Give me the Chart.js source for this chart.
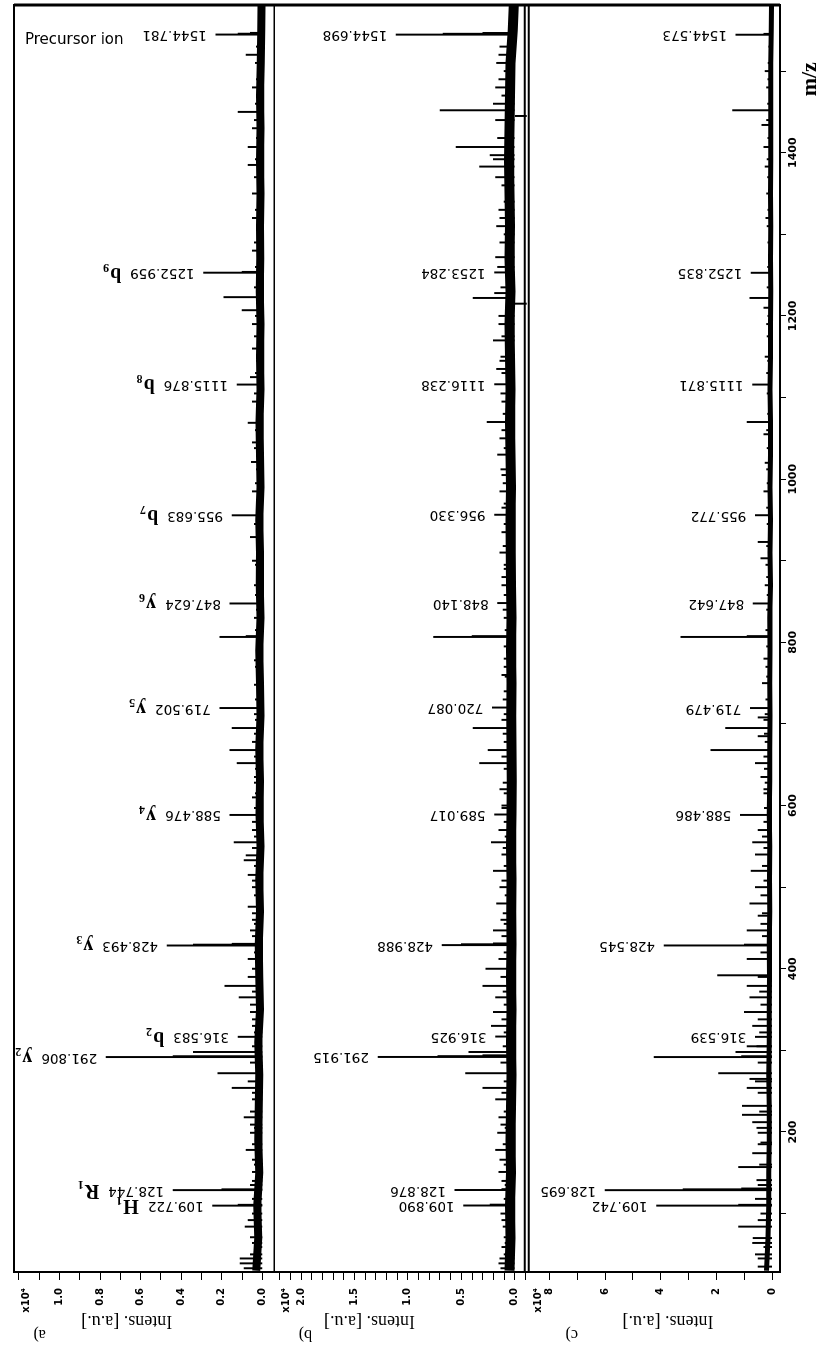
<!DOCTYPE html>
<html>
<head>
<meta charset="utf-8">
<script src="https://cdn.jsdelivr.net/npm/chart.js"></script>
<style>
html, body { margin:0; padding:0; background:#fff; width:817px; height:1347px; overflow:hidden; }
/* the spectrum is drawn landscape and turned a quarter turn, like the scanned figure */
#wrap { position:absolute; left:0; top:0; width:1347px; height:817px; transform-origin:0 0; transform:translate(0px,1347px) rotate(-90deg); }
canvas { display:block; }
</style>
</head>
<body>
<div id="wrap"><canvas id="spec" width="1347" height="817"></canvas></div>
<script>
// m/z axis and tick labels
var mzTickLabels = [200, 400, 600, 800, 1000, 1200, 1400];
var tickLabelsA = [0, 0.2, 0.4, 0.6, 0.8, 1.0];
var tickLabelsB = [0, 0.5, 1.0, 1.5, 2.0];
var tickLabelsC = [0, 2, 4, 6, 8];

// panel a) peaks (intens. x10^4)
var peakMzA = [33, 39, 45, 59, 71, 84, 100, 109.722, 110.7, 128.744, 129.7, 140, 151, 166, 178, 199, 209, 218, 240, 254, 272, 291.806, 292.8, 298, 316.583, 330, 347, 365, 379, 400, 412, 428.493, 429.5, 430.5, 447, 460, 476, 500, 515, 533, 539, 555, 570, 588.476, 610, 635, 652, 668, 695, 719.502, 748, 778, 806.6, 807.6, 830, 847.624, 870, 900, 929, 955.683, 985, 1021, 1045, 1069, 1095, 1115.876, 1125, 1160, 1190, 1207, 1223, 1252.959, 1253.9, 1280, 1320, 1350, 1385, 1407, 1430, 1450, 1480, 1520, 1544.781, 1545.8, 1546.8];
var peakIA = [0.09, 0.11, 0.11, 0.04, 0.06, 0.085, 0.05, 0.245, 0.12, 0.44, 0.2, 0.05, 0.05, 0.05, 0.08, 0.06, 0.06, 0.09, 0.05, 0.15, 0.22, 0.77, 0.44, 0.34, 0.12, 0.05, 0.06, 0.115, 0.185, 0.05, 0.07, 0.47, 0.34, 0.15, 0.06, 0.05, 0.07, 0.05, 0.07, 0.09, 0.08, 0.14, 0.05, 0.16, 0.05, 0.04, 0.125, 0.16, 0.15, 0.21, 0.04, 0.04, 0.21, 0.08, 0.04, 0.16, 0.04, 0.05, 0.06, 0.15, 0.05, 0.055, 0.05, 0.07, 0.05, 0.125, 0.06, 0.05, 0.05, 0.1, 0.19, 0.29, 0.1, 0.05, 0.05, 0.05, 0.07, 0.07, 0.05, 0.12, 0.05, 0.08, 0.23, 0.12, 0.06];
var labelsA = [109.722, 128.744, 291.806, 316.583, 428.493, 588.476, 719.502, 847.624, 955.683, 1115.876, 1252.959, 1544.781];
var ionsA = [['H', '1'], ['R', '1'], ['y', '2'], ['b', '2'], ['y', '3'], ['y', '4'], ['y', '5'], ['y', '6'], ['b', '7'], ['b', '8'], ['b', '9'], null];

// panel b)
var peakMzB = [33, 39, 45, 59, 71, 84, 100, 109.89, 110.9, 128.876, 129.9, 140, 151, 166, 178, 199, 209, 218, 240, 254, 272, 291.915, 292.9, 293.9, 298, 316.925, 330, 347, 365, 379, 400, 412, 428.988, 430, 431, 447, 460, 480, 500, 520, 540, 555, 570, 589.017, 600, 620, 652, 668, 695, 720.087, 740, 760, 780, 806.6, 807.6, 830, 848.14, 870, 890, 910, 935, 956.33, 970, 985, 1005, 1030, 1050, 1070, 1095, 1116.238, 1135, 1150, 1170, 1190, 1215, 1222, 1228, 1238, 1253.284, 1272, 1300, 1320, 1340, 1360, 1383, 1397, 1407, 1445, 1452, 1470, 1480, 1500, 1520, 1544.698, 1545.7, 1546.7];
var peakIB = [0.13, 0.15, 0.14, 0.12, 0.1, 0.11, 0.13, 0.48, 0.23, 0.56, 0.12, 0.12, 0.15, 0.14, 0.18, 0.16, 0.13, 0.15, 0.18, 0.3, 0.46, 1.28, 0.72, 0.3, 0.43, 0.18, 0.22, 0.2, 0.18, 0.3, 0.27, 0.15, 0.68, 0.5, 0.2, 0.2, 0.13, 0.17, 0.14, 0.2, 0.12, 0.22, 0.15, 0.19, 0.12, 0.14, 0.33, 0.25, 0.39, 0.21, 0.1, 0.12, 0.1, 0.76, 0.4, 0.1, 0.16, 0.12, 0.1, 0.14, 0.12, 0.19, 0.1, 0.14, 0.12, 0.16, 0.14, 0.26, 0.12, 0.19, 0.17, 0.13, 0.2, 0.15, -0.14, 0.39, 0.19, 0.08, 0.19, 0.18, 0.1, 0.14, 0.1, 0.12, 0.33, 0.23, 0.55, -0.14, 0.7, 0.12, 0.18, 0.1, 0.15, 1.11, 0.67, 0.3];
var labelsB = [109.89, 128.876, 291.915, 316.925, 428.988, 589.017, 720.087, 848.14, 956.33, 1116.238, 1253.284, 1544.698];

// panel c)
var peakMzC = [35, 45, 59, 70, 84, 100, 109.742, 110.7, 128.695, 129.7, 130.7, 141, 157, 174, 187, 199, 212, 221, 232, 254, 265, 272, 291.8, 292.8, 298, 305, 316.539, 330, 347, 365, 379, 392, 412, 428.545, 429.5, 447, 465, 480, 500, 520, 540, 555, 570, 588.486, 620, 635, 652, 668, 685, 695, 708, 719.479, 750, 780, 806.6, 807.6, 847.642, 870, 903, 923, 955.772, 985, 1020, 1055, 1070, 1115.871, 1150, 1190, 1210, 1222, 1252.835, 1320, 1350, 1383, 1407, 1434, 1452, 1480, 1500, 1544.573, 1545.6];
var peakIC = [0.5, 0.5, 0.3, 0.68, 1.2, 0.4, 4.15, 1.2, 6.0, 3.2, 1.1, 0.55, 1.2, 0.7, 0.4, 0.5, 0.7, 1.07, 1.07, 0.9, 0.8, 1.92, 4.24, 1.1, 1.3, 0.9, 0.6, 0.7, 1.0, 0.8, 0.9, 1.96, 0.9, 3.88, 1.0, 0.9, 0.5, 0.8, 0.6, 0.75, 0.6, 0.7, 0.5, 1.14, 0.3, 0.4, 0.6, 2.2, 0.5, 1.67, 0.5, 0.78, 0.35, 0.3, 3.28, 0.9, 0.68, 0.25, 0.4, 0.5, 0.6, 0.3, 0.25, 0.3, 0.9, 0.7, 0.25, 0.2, 0.3, 0.8, 0.75, 0.22, 0.2, 0.25, 0.3, 0.37, 1.42, 0.2, 0.25, 1.3, 0.3];
var labelsC = [109.742, 128.695, 316.539, 428.545, 588.486, 719.479, 847.642, 955.772, 1115.871, 1252.835, 1544.573];

// small noise spikes along the baseline
var spikeMz = [50, 64, 92, 118, 135, 160, 185, 205, 225, 248, 262, 285, 305, 322, 338, 356, 372, 390, 420, 440, 455, 468, 490, 508, 526, 548, 562, 580, 597, 615, 628, 645, 660, 678, 688, 705, 712, 730, 758, 770, 795, 815, 840, 858, 880, 895, 918, 945, 965, 995, 1012, 1038, 1060, 1080, 1105, 1130, 1145, 1175, 1200, 1235, 1260, 1290, 1310, 1330, 1370, 1392, 1418, 1440, 1460, 1490, 1510, 1530];
var spikeA = [0.06, 0.05, 0.07, 0.05, 0.06, 0.04, 0.05, 0.04, 0.06, 0.05, 0.07, 0.06, 0.05, 0.04, 0.05, 0.06, 0.05, 0.07, 0.04, 0.05, 0.04, 0.05, 0.04, 0.05, 0.04, 0.05, 0.04, 0.05, 0.04, 0.035, 0.04, 0.035, 0.04, 0.05, 0.04, 0.035, 0.04, 0.035, 0.03, 0.035, 0.03, 0.035, 0.03, 0.035, 0.03, 0.035, 0.03, 0.04, 0.03, 0.035, 0.03, 0.04, 0.035, 0.03, 0.04, 0.035, 0.03, 0.04, 0.035, 0.04, 0.035, 0.04, 0.03, 0.035, 0.04, 0.035, 0.03, 0.04, 0.035, 0.03, 0.035, 0.03];
var spikeB = [0.1, 0.09, 0.12, 0.1, 0.09, 0.1, 0.11, 0.09, 0.1, 0.12, 0.1, 0.13, 0.11, 0.1, 0.12, 0.1, 0.11, 0.13, 0.1, 0.12, 0.1, 0.11, 0.09, 0.12, 0.1, 0.11, 0.09, 0.1, 0.12, 0.1, 0.11, 0.1, 0.12, 0.1, 0.11, 0.12, 0.1, 0.11, 0.09, 0.1, 0.1, 0.09, 0.11, 0.1, 0.12, 0.1, 0.11, 0.1, 0.12, 0.11, 0.13, 0.1, 0.12, 0.11, 0.13, 0.12, 0.14, 0.12, 0.15, 0.13, 0.16, 0.14, 0.17, 0.15, 0.18, 0.2, 0.16, 0.18, 0.2, 0.15, 0.17, 0.14];
var spikeC = [0.6, 0.7, 0.5, 0.6, 0.5, 0.45, 0.5, 0.55, 0.45, 0.5, 0.6, 0.5, 0.55, 0.45, 0.5, 0.4, 0.45, 0.5, 0.4, 0.35, 0.4, 0.35, 0.4, 0.3, 0.35, 0.3, 0.35, 0.3, 0.28, 0.3, 0.25, 0.28, 0.3, 0.25, 0.28, 0.3, 0.25, 0.22, 0.2, 0.22, 0.2, 0.22, 0.2, 0.18, 0.2, 0.22, 0.2, 0.18, 0.2, 0.18, 0.2, 0.18, 0.2, 0.16, 0.18, 0.2, 0.16, 0.18, 0.15, 0.18, 0.16, 0.15, 0.18, 0.15, 0.16, 0.18, 0.15, 0.2, 0.16, 0.15, 0.14, 0.12];

// baseline noise band
var noiseMz = [30, 70, 110, 150, 190, 230, 270, 310, 350, 390, 430, 470, 510, 550, 590, 630, 670, 710, 750, 790, 830, 870, 910, 950, 990, 1030, 1070, 1110, 1150, 1190, 1230, 1270, 1310, 1350, 1390, 1430, 1470, 1510, 1550, 1580];
var noiseA = [0.03, 0.02, 0.025, 0.015, 0.02, 0.018, 0.015, 0.02, 0.012, 0.015, 0.018, 0.012, 0.015, 0.01, 0.014, 0.012, 0.016, 0.01, 0.012, 0.015, 0.01, 0.013, 0.012, 0.016, 0.01, 0.012, 0.014, 0.01, 0.012, 0.01, 0.013, 0.011, 0.012, 0.01, 0.012, 0.01, 0.012, 0.008, 0.006, 0.004];
var noiseB = [0.05, 0.04, 0.045, 0.035, 0.04, 0.035, 0.03, 0.035, 0.03, 0.035, 0.03, 0.032, 0.03, 0.035, 0.03, 0.028, 0.03, 0.032, 0.03, 0.035, 0.03, 0.035, 0.038, 0.04, 0.035, 0.04, 0.045, 0.04, 0.045, 0.05, 0.04, 0.05, 0.045, 0.05, 0.055, 0.05, 0.045, 0.04, 0.02, 0.01];
var noiseC = [0.2, 0.15, 0.12, 0.12, 0.1, 0.1, 0.12, 0.1, 0.1, 0.09, 0.1, 0.08, 0.09, 0.08, 0.1, 0.08, 0.08, 0.07, 0.08, 0.07, 0.08, 0.06, 0.07, 0.06, 0.07, 0.06, 0.06, 0.07, 0.06, 0.06, 0.05, 0.06, 0.05, 0.06, 0.05, 0.05, 0.05, 0.05, 0.03, 0.02];

function isIn(list, v) {
  return list.some(function (m) { return Math.abs(m - v) < 1e-6; });
}

function bars(mz, val, axis) {
  return {
    type: 'bar', yAxisID: axis,
    data: mz.map(function (m, i) { return {x: m, y: val[i]}; }),
    backgroundColor: '#000', borderWidth: 0, barThickness: 1.3, grouped: false
  };
}

function band(val, axis, w) {
  return {
    type: 'line', yAxisID: axis,
    data: noiseMz.map(function (m, i) { return {x: m, y: val[i]}; }),
    borderColor: '#000', borderWidth: w, pointRadius: 0, tension: 0, fill: false
  };
}

function yAxis(min, max, step, majors, digits, stackW, order) {
  return {
    type: 'linear', position: 'left', stack: 'ms', stackWeight: stackW, weight: order,
    min: min, max: max, offset: false,
    grid: {drawOnChartArea: false, tickLength: 8, tickColor: '#000', tickWidth: 1},
    border: {display: false},
    ticks: {
      stepSize: step, includeBounds: false, autoSkip: false, padding: 8, color: '#000',
      font: {family: 'DejaVu Sans', size: 10, weight: 'bold'},
      callback: function (v) { return isIn(majors, v) ? v.toFixed(digits) : ''; }
    },
    afterFit: function (s) { s.width = 75; }
  };
}

var panels = [
  {axis: 'ya', mz: peakMzA, val: peakIA, labels: labelsA, ions: ionsA, name: 'a)', titleAt: 0.668, nameAt: 1.098},
  {axis: 'yb', mz: peakMzB, val: peakIB, labels: labelsB, ions: null, name: 'b)', titleAt: 1.36, nameAt: 1.96},
  {axis: 'yc', mz: peakMzC, val: peakIC, labels: labelsC, ions: null, name: 'c)', titleAt: 3.74, nameAt: 7.2}
];

var textPlugin = {
  id: 'specText',
  afterDatasetsDraw: function (chart) {
    var ctx = chart.ctx, xs = chart.scales.x, area = chart.chartArea;
    ctx.save();
    ctx.fillStyle = '#000';
    ctx.strokeStyle = '#000';

    // boxes round the panels
    ctx.lineWidth = 2;
    ctx.strokeRect(area.left, area.top, area.right - area.left, area.bottom - area.top);
    ctx.lineWidth = 3;
    ctx.beginPath(); ctx.moveTo(area.right, area.top); ctx.lineTo(area.right, area.bottom); ctx.stroke();
    var ya = chart.scales.ya, yb = chart.scales.yb;
    ctx.lineWidth = 1.5;
    ctx.beginPath(); ctx.moveTo(area.left, ya.bottom); ctx.lineTo(area.right, ya.bottom); ctx.stroke();
    ctx.lineWidth = 2;
    ctx.beginPath(); ctx.moveTo(area.left, yb.bottom - 2); ctx.lineTo(area.right, yb.bottom - 2); ctx.stroke();
    ctx.beginPath(); ctx.moveTo(area.left, yb.bottom + 2); ctx.lineTo(area.right, yb.bottom + 2); ctx.stroke();

    panels.forEach(function (p) {
      var ys = chart.scales[p.axis];
      // peak labels, written up the page
      p.labels.forEach(function (m, i) {
        var k = p.mz.indexOf(m);
        var px = xs.getPixelForValue(m);
        var py = ys.getPixelForValue(p.val[k]) - 9;
        ctx.save();
        ctx.translate(px, py);
        ctx.rotate(-Math.PI / 2);
        ctx.textAlign = 'left';
        ctx.textBaseline = 'middle';
        ctx.font = '13.5px "DejaVu Sans"';
        var t = m.toFixed(3);
        ctx.fillText(t, 0, 0);
        var ion = p.ions && p.ions[i];
        if (ion) {
          var w = ctx.measureText(t).width + 9;
          ctx.font = 'bold 20px "Liberation Serif"';
          ctx.fillText(ion[0], w, 0);
          var w2 = ctx.measureText(ion[0]).width;
          ctx.font = 'bold 12px "Liberation Serif"';
          ctx.fillText(ion[1], w + w2 + 1, 6);
        }
        ctx.restore();
      });

      // axis title and panel letter
      ctx.save();
      ctx.translate(ys.left + 26, ys.getPixelForValue(p.titleAt));
      ctx.rotate(-Math.PI / 2);
      ctx.textAlign = 'center';
      ctx.textBaseline = 'middle';
      ctx.font = '18px "Liberation Serif"';
      ctx.fillText('Intens. [a.u.]', 0, 0);
      ctx.restore();

      ctx.save();
      ctx.translate(ys.left + 13, ys.getPixelForValue(p.nameAt));
      ctx.rotate(-Math.PI / 2);
      ctx.textAlign = 'center';
      ctx.textBaseline = 'middle';
      ctx.font = '16px "Liberation Serif"';
      ctx.fillText(p.name, 0, 0);
      ctx.restore();

      ctx.textAlign = 'right';
      ctx.textBaseline = 'middle';
      ctx.font = 'bold 10px "DejaVu Sans"';
      ctx.fillText('x10\u2074', ys.right - 16, ys.top + 12);
    });

    // precursor note, reading down the page
    ctx.save();
    ctx.translate(xs.getPixelForValue(1538), ya.getPixelForValue(1.17));
    ctx.rotate(Math.PI / 2);
    ctx.textAlign = 'left';
    ctx.textBaseline = 'middle';
    ctx.font = '15px "DejaVu Sans"';
    ctx.fillText('Precursor ion', 0, 0);
    ctx.restore();

    // m/z title
    ctx.textAlign = 'center';
    ctx.textBaseline = 'middle';
    ctx.font = 'bold 22px "Liberation Serif"';
    ctx.fillText('m/z', xs.getPixelForValue(1490), xs.top + 30);
    ctx.restore();
  }
};

var ctx = document.getElementById('spec').getContext('2d');
new Chart(ctx, {
  type: 'bar',
  data: {
    datasets: [
      band(noiseA, 'ya', 8), band(noiseB, 'yb', 10), band(noiseC, 'yc', 5),
      bars(spikeMz, spikeA, 'ya'), bars(spikeMz, spikeB, 'yb'), bars(spikeMz, spikeC, 'yc'),
      bars(peakMzA, peakIA, 'ya'), bars(peakMzB, peakIB, 'yb'), bars(peakMzC, peakIC, 'yc')
    ]
  },
  options: {
    responsive: false,
    animation: false,
    layout: {padding: {left: 0, right: 5, top: 6, bottom: 0}, autoPadding: false},
    plugins: {legend: {display: false}, tooltip: {enabled: false}},
    scales: {
      x: {
        type: 'linear', position: 'bottom', min: 28.4, max: 1581, offset: false,
        grid: {drawOnChartArea: false, offset: false, tickLength: 6, tickColor: '#000', tickWidth: 1},
        border: {display: false},
        ticks: {
          stepSize: 100, includeBounds: false, autoSkip: false, maxRotation: 0, padding: 1, color: '#000',
          font: {family: 'DejaVu Sans', size: 11, weight: 'bold'},
          callback: function (v) { return isIn(mzTickLabels, v) ? String(v) : ''; }
        },
        afterFit: function (s) { s.height = 37; }
      },
      ya: yAxis(-0.0585, 1.224, 0.1, tickLabelsA, 1, 263, 3),
      yb: yAxis(-0.111, 2.25, 0.1, tickLabelsB, 1, 255, 2),
      yc: yAxis(-0.285, 8.82, 1, tickLabelsC, 0, 256, 1)
    }
  },
  plugins: [textPlugin]
});
</script>
</body>
</html>
